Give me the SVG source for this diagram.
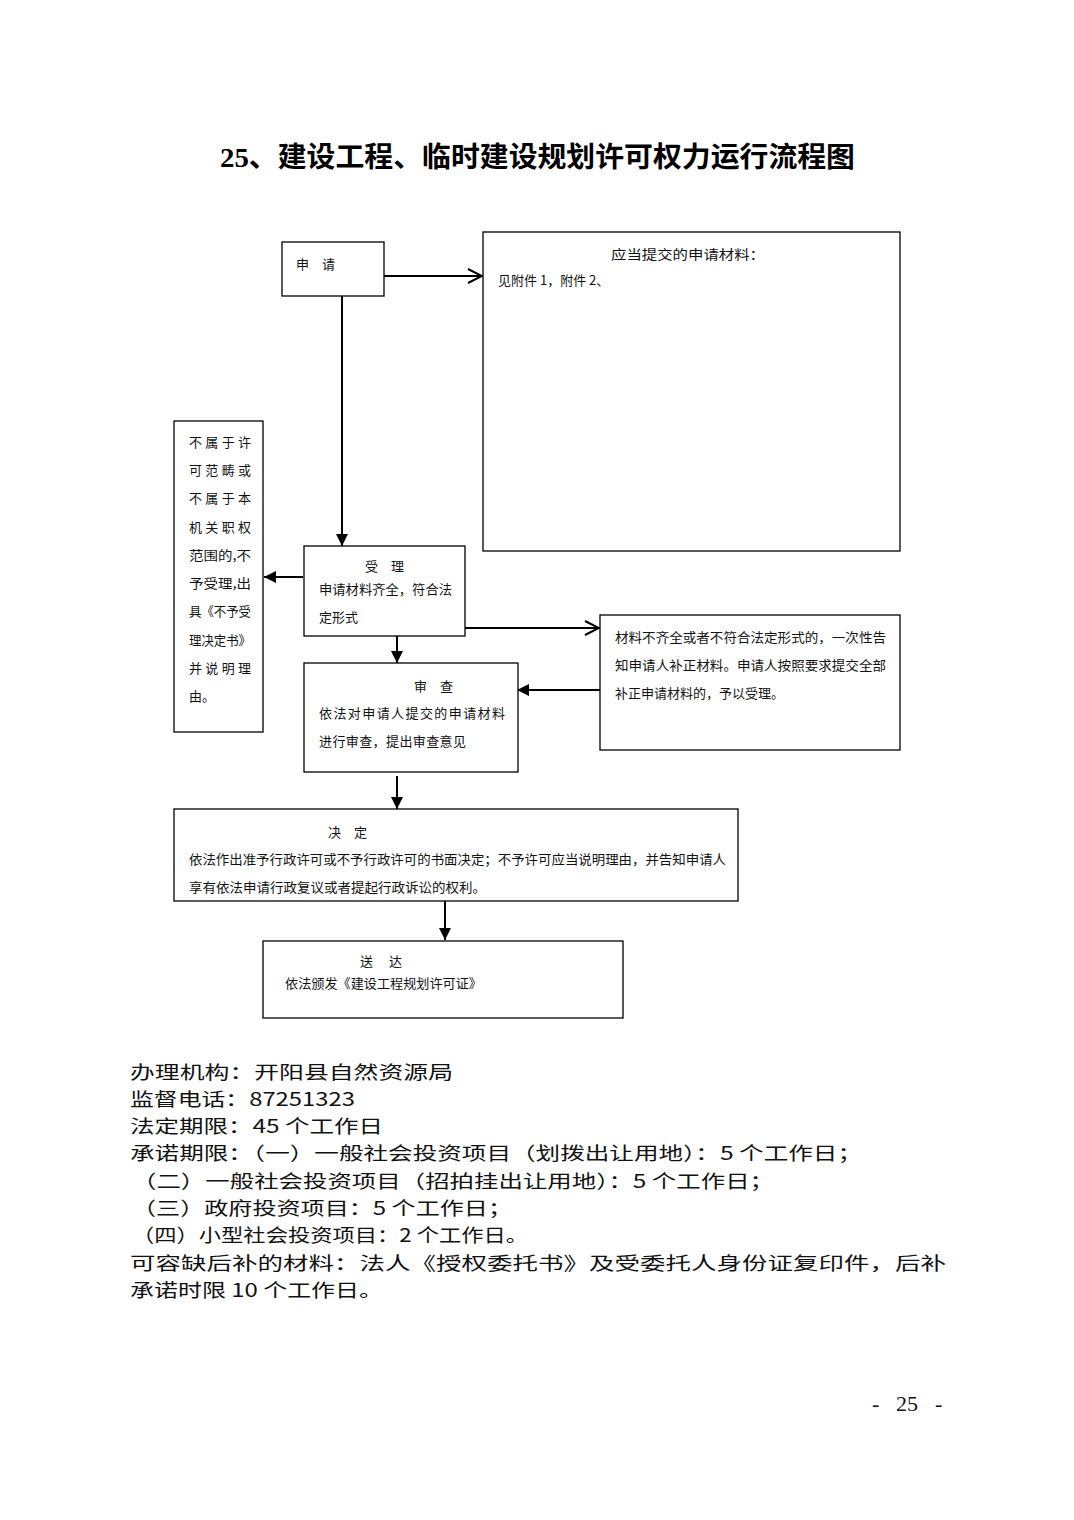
<svg xmlns="http://www.w3.org/2000/svg" width="1074" height="1520" viewBox="0 0 1074 1520">
<style>
.bg{fill:#ffffff}
.box{fill:#ffffff;stroke:#000;stroke-width:1.3}
.con{stroke:#000;stroke-width:2;fill:none}
.t{font-family:"Noto Sans CJK SC","Liberation Serif",sans-serif;font-size:13px;fill:#111}
.title{font-family:"Liberation Serif","Noto Sans CJK SC",serif;font-size:28px;font-weight:bold;fill:#000}
.info{font-family:"Noto Sans CJK SC","Liberation Serif",sans-serif;font-size:18.5px;fill:#111}
.pg{font-family:"Liberation Serif",serif;font-size:22px;fill:#111}
</style>
<defs>
<marker id="fill" markerWidth="12" markerHeight="12" refX="12" refY="6" orient="auto" markerUnits="userSpaceOnUse">
<path d="M0,0 L12,6 L0,12 z" fill="#000"/>
</marker>
<marker id="open" markerWidth="16" markerHeight="16" refX="15" refY="8" orient="auto" markerUnits="userSpaceOnUse">
<path d="M1,1 L15,8 L1,15" fill="none" stroke="#000" stroke-width="2"/>
</marker>
</defs>
<rect class="bg" x="0" y="0" width="1074" height="1520"/>

<text class="title" x="220" y="167" textLength="635" lengthAdjust="spacingAndGlyphs">25、建设工程、临时建设规划许可权力运行流程图</text>

<g id="connectors">
<line class="con" x1="384" y1="276" x2="482" y2="276" marker-end="url(#open)"/>
<line class="con" x1="342" y1="293" x2="342" y2="546" marker-end="url(#fill)"/>
<line class="con" x1="303" y1="577" x2="264" y2="577" marker-end="url(#fill)"/>
<line class="con" x1="465" y1="628" x2="599" y2="628" marker-end="url(#open)"/>
<line class="con" x1="603" y1="690" x2="517" y2="690" marker-end="url(#fill)"/>
<line class="con" x1="397" y1="636" x2="397" y2="663" marker-end="url(#fill)"/>
<line class="con" x1="397" y1="776" x2="397" y2="809" marker-end="url(#fill)"/>
<line class="con" x1="445" y1="901" x2="445" y2="940" marker-end="url(#fill)"/>
</g>

<g id="apply">
<rect class="box" x="282" y="242" width="102" height="54"/>
<text class="t" x="296" y="269">申　请</text>
</g>

<g id="materials">
<rect class="box" x="483" y="232" width="417" height="319"/>
<text class="t" x="611" y="259" textLength="154" lengthAdjust="spacingAndGlyphs">应当提交的申请材料：</text>
<text class="t" x="498" y="285">见附件 1，附件 2、</text>
</g>

<g id="reject">
<rect class="box" x="174" y="421" width="89" height="311"/>
<text class="t" x="189" y="447" textLength="62" lengthAdjust="spacing">不属于许</text>
<text class="t" x="189" y="475" textLength="62" lengthAdjust="spacing">可范畴或</text>
<text class="t" x="189" y="503" textLength="62" lengthAdjust="spacing">不属于本</text>
<text class="t" x="189" y="532" textLength="62" lengthAdjust="spacing">机关职权</text>
<text class="t" x="189" y="560" textLength="62" lengthAdjust="spacingAndGlyphs">范围的,不</text>
<text class="t" x="189" y="588" textLength="62" lengthAdjust="spacingAndGlyphs">予受理,出</text>
<text class="t" x="189" y="616" textLength="62" lengthAdjust="spacingAndGlyphs">具《不予受</text>
<text class="t" x="189" y="645" textLength="62" lengthAdjust="spacingAndGlyphs">理决定书》</text>
<text class="t" x="189" y="673" textLength="62" lengthAdjust="spacing">并说明理</text>
<text class="t" x="189" y="701">由。</text>
</g>

<g id="accept">
<rect class="box" x="304" y="546" width="161" height="90"/>
<text class="t" x="365" y="571">受　理</text>
<text class="t" x="319" y="594" textLength="133" lengthAdjust="spacingAndGlyphs">申请材料齐全，符合法</text>
<text class="t" x="319" y="622">定形式</text>
</g>

<g id="supplement">
<rect class="box" x="600" y="615" width="300" height="135"/>
<text class="t" x="615" y="642" textLength="271" lengthAdjust="spacingAndGlyphs">材料不齐全或者不符合法定形式的，一次性告</text>
<text class="t" x="615" y="670" textLength="271" lengthAdjust="spacingAndGlyphs">知申请人补正材料。申请人按照要求提交全部</text>
<text class="t" x="615" y="698">补正申请材料的，予以受理。</text>
</g>

<g id="review">
<rect class="box" x="304" y="663" width="214" height="109"/>
<text class="t" x="414" y="691">审　查</text>
<text class="t" x="319" y="718" textLength="186" lengthAdjust="spacing">依法对申请人提交的申请材料</text>
<text class="t" x="319" y="746" textLength="147" lengthAdjust="spacing">进行审查，提出审查意见</text>
</g>

<g id="decision">
<rect class="box" x="174" y="809" width="564" height="92"/>
<text class="t" x="328" y="837">决　定</text>
<text class="t" x="189" y="864" textLength="537" lengthAdjust="spacingAndGlyphs">依法作出准予行政许可或不予行政许可的书面决定；不予许可应当说明理由，并告知申请人</text>
<text class="t" x="189" y="892" textLength="297" lengthAdjust="spacingAndGlyphs">享有依法申请行政复议或者提起行政诉讼的权利。</text>
</g>

<g id="deliver">
<rect class="box" x="263" y="941" width="360" height="77"/>
<text class="t" x="360" y="966">送　 达</text>
<text class="t" x="285" y="988" textLength="197" lengthAdjust="spacingAndGlyphs">依法颁发《建设工程规划许可证》</text>
</g>

<g id="info">
<text class="info" x="130" y="1079" textLength="323" lengthAdjust="spacingAndGlyphs">办理机构：开阳县自然资源局</text>
<text class="info" x="130" y="1106" textLength="225" lengthAdjust="spacingAndGlyphs">监督电话：87251323</text>
<text class="info" x="130" y="1133" textLength="253" lengthAdjust="spacingAndGlyphs">法定期限：45 个工作日</text>
<text class="info" x="130" y="1160" textLength="732" lengthAdjust="spacingAndGlyphs">承诺期限：（一）一般社会投资项目（划拨出让用地）：5 个工作日；</text>
<text class="info" x="132" y="1188" textLength="642" lengthAdjust="spacingAndGlyphs">（二）一般社会投资项目（招拍挂出让用地）：5 个工作日；</text>
<text class="info" x="132" y="1215" textLength="380" lengthAdjust="spacingAndGlyphs">（三）政府投资项目：5 个工作日；</text>
<text class="info" x="132" y="1242" textLength="396" lengthAdjust="spacingAndGlyphs">（四）小型社会投资项目：2 个工作日。</text>
<text class="info" x="130" y="1270" textLength="816" lengthAdjust="spacingAndGlyphs">可容缺后补的材料：法人《授权委托书》及受委托人身份证复印件，后补</text>
<text class="info" x="130" y="1297" textLength="253" lengthAdjust="spacingAndGlyphs">承诺时限 10 个工作日。</text>
</g>

<g id="page-number">
<text class="pg" x="872" y="1411">-</text>
<text class="pg" x="896" y="1411">25</text>
<text class="pg" x="935" y="1411">-</text>
</g>
</svg>
